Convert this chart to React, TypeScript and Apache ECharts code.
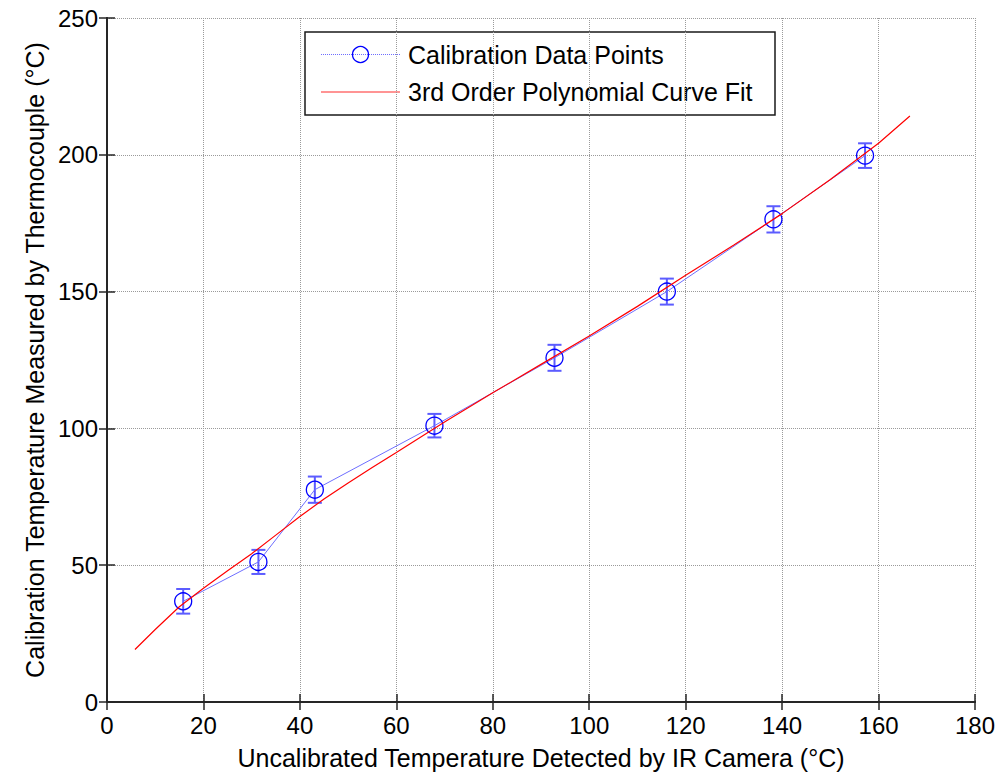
import React, { useEffect, useRef } from "react";
import * as echarts from "echarts";

// Calibration data points (IR camera reading vs thermocouple)
const calX = [15.8, 31.4, 43.1, 67.9, 92.8, 116.1, 138.2, 157.2];
const calY = [36.8, 51.2, 77.6, 101.0, 125.8, 150.0, 176.4, 199.7];
const calErr = [4.5, 4.4, 4.8, 4.3, 4.75, 4.75, 4.8, 4.5];

// 3rd order polynomial curve fit
const fitX = [5.8, 10, 15, 20, 25, 30, 35, 40, 45, 50, 55, 60, 70, 80, 90, 100, 110, 120, 130, 140, 150, 160, 166.5];
const fitY = [19.2, 26.5, 34.8, 41.6, 48, 54.2, 61, 67.8, 74.2, 80, 85.7, 91.2, 102.3, 113, 123.4, 133.8, 144.6, 156, 167, 178.5, 191, 204.2, 214.2];

const xTicks = { min: 0, max: 180, interval: 20 };
const yTicks = { min: 0, max: 250, interval: 50 };

const legendLabels = ["Calibration Data Points", "3rd Order Polynomial Curve Fit"];
const xTitle = "Uncalibrated Temperature Detected by IR Camera (°C)";
const yTitle = "Calibration Temperature Measured by Thermocouple (°C)";

const FONT = "'Liberation Sans', Arial, Helvetica, sans-serif";

export default function App() {
  const ref = useRef<HTMLDivElement>(null);

  useEffect(() => {
    if (!ref.current) return;
    const chart = echarts.init(ref.current, undefined, { renderer: "svg" });

    const calData = calX.map((x, i) => [x, calY[i]]);
    const errData = calX.map((x, i) => [x, calY[i] - calErr[i], calY[i] + calErr[i]]);
    const fitData = fitX.map((x, i) => [x, fitY[i]]);

    const axisLine = { show: true, lineStyle: { color: "#262626", width: 2 } };
    const tick = { show: true, inside: true, length: 8, lineStyle: { color: "#262626", width: 1.5 } };
    const grid = { show: true, lineStyle: { color: "#9a9a9a", width: 1, type: [1, 1] } };
    const labelStyle = { color: "#000", fontFamily: FONT, fontSize: 24 };

    chart.setOption({
      animation: false,
      backgroundColor: "#fff",
      grid: { left: 107, right: 27, top: 18, bottom: 74, containLabel: false },
      xAxis: [
        {
          type: "value",
          ...xTicks,
          axisLine,
          axisTick: tick,
          splitLine: grid,
          axisLabel: { ...labelStyle, margin: 11 },
          name: xTitle,
          nameLocation: "middle",
          nameGap: 43,
          nameTextStyle: { color: "#000", fontFamily: FONT, fontSize: 25 },
        },
        {
          type: "value",
          position: "top",
          ...xTicks,
          axisLine,
          axisTick: tick,
          splitLine: { show: false },
          axisLabel: { show: false },
        },
      ],
      yAxis: [
        {
          type: "value",
          ...yTicks,
          axisLine,
          axisTick: tick,
          splitLine: grid,
          axisLabel: { ...labelStyle, margin: 9 },
          name: yTitle,
          nameLocation: "middle",
          nameGap: 57,
          nameTextStyle: { color: "#000", fontFamily: FONT, fontSize: 25 },
        },
        {
          type: "value",
          position: "right",
          ...yTicks,
          axisLine,
          axisTick: tick,
          splitLine: { show: false },
          axisLabel: { show: false },
        },
      ],
      series: [
        {
          type: "custom",
          name: "err",
          data: errData,
          z: 2,
          renderItem: (params: any, api: any) => {
            const x = api.value(0);
            const lo = api.coord([x, api.value(1)]);
            const hi = api.coord([x, api.value(2)]);
            const cap = 7;
            const style = { stroke: "#5c5cff", lineWidth: 2 };
            return {
              type: "group",
              children: [
                { type: "line", shape: { x1: lo[0], y1: lo[1], x2: hi[0], y2: hi[1] }, style },
                { type: "line", shape: { x1: lo[0] - cap, y1: lo[1], x2: lo[0] + cap, y2: lo[1] }, style },
                { type: "line", shape: { x1: hi[0] - cap, y1: hi[1], x2: hi[0] + cap, y2: hi[1] }, style },
              ],
            };
          },
        },
        {
          type: "line",
          name: legendLabels[0],
          data: calData,
          z: 3,
          symbol: "circle",
          symbolSize: 17,
          showSymbol: true,
          itemStyle: { color: "rgba(0,0,0,0)", borderColor: "#0000ff", borderWidth: 1.3 },
          lineStyle: { color: "#6e6eff", width: 1 },
        },
        {
          type: "line",
          name: legendLabels[1],
          data: fitData,
          z: 4,
          showSymbol: false,
          symbol: "none",
          lineStyle: { color: "#ff0000", width: 1.2 },
        },
      ],
      graphic: [
        {
          type: "group",
          z: 100,
          children: [
            {
              type: "rect",
              shape: { x: 305, y: 32, width: 470, height: 83 },
              style: { fill: "#fff", stroke: "#1a1a1a", lineWidth: 1.5 },
            },
            {
              type: "line",
              shape: { x1: 321, y1: 54.5, x2: 400, y2: 54.5 },
              style: { stroke: "#6e6eff", lineWidth: 1, lineDash: [1, 1] },
            },
            {
              type: "circle",
              shape: { cx: 360.5, cy: 54.5, r: 8 },
              style: { fill: "none", stroke: "#0000ff", lineWidth: 1.3 },
            },
            {
              type: "text",
              x: 408,
              y: 54.5,
              style: { text: legendLabels[0], fill: "#000", font: `25px ${FONT}`, verticalAlign: "middle", align: "left" },
            },
            {
              type: "line",
              shape: { x1: 321, y1: 92, x2: 400, y2: 92 },
              style: { stroke: "#ff7070", lineWidth: 1.5 },
            },
            {
              type: "text",
              x: 408,
              y: 92,
              style: { text: legendLabels[1], fill: "#000", font: `25px ${FONT}`, verticalAlign: "middle", align: "left" },
            },
          ],
        },
      ],
    });

    return () => chart.dispose();
  }, []);

  return <div ref={ref} style={{ width: 1002, height: 776, position: "absolute", left: 0, top: 0 }} />;
}
